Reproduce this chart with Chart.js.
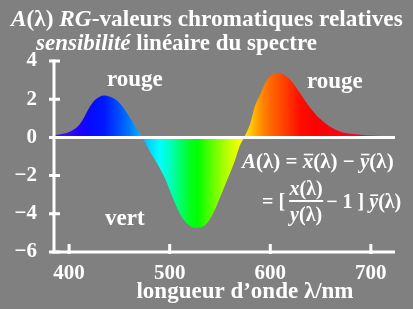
<!DOCTYPE html>
<html>
<head>
<meta charset="utf-8">
<script src="https://cdn.jsdelivr.net/npm/chart.js@4.4.1/dist/chart.umd.min.js"></script>
<style>
  html, body { margin: 0; padding: 0; background: #808080; }
  #chart { display: block; }
</style>
</head>
<body>
<canvas id="chart" width="413" height="309"></canvas>
<script>
// longueurs d'onde (nm) et valeurs A(λ)
const wavelengths = [385, 390, 400, 410, 415, 420, 425, 430, 435, 440, 445, 450, 455, 460, 465, 470, 473,
    480, 485, 490, 495, 500, 505, 510, 515, 520, 525, 530, 535, 540, 545, 550, 555, 560, 565, 570, 574,
    580, 585, 590, 595, 600, 605, 610, 615, 620, 625, 630, 640, 650, 660, 670, 680, 690, 700, 710, 720];
const aValues = [0.10, 0.15, 0.28, 0.65, 1.05, 1.55, 1.92, 2.12, 2.19, 2.14, 2.02, 1.80, 1.48, 1.07, 0.64, 0.22, 0.0,
    -0.71, -1.15, -1.60, -2.10, -2.75, -3.40, -3.98, -4.38, -4.62, -4.73, -4.72, -4.60, -4.28, -3.78, -3.15, -2.50, -1.87, -1.18, -0.40, 0.0,
    0.71, 1.68, 2.25, 2.85, 3.20, 3.35, 3.37, 3.23, 3.00, 2.67, 2.28, 1.53, 0.95, 0.55, 0.30, 0.19, 0.14, 0.10, 0.07, 0.04];
const xTicks = [400, 500, 600, 700];
const yTicks = [-6, -4, -2, 0, 2, 4];

// couleurs du spectre (style)
const spectrum = [
    [385, "#4818e8"], [400, "#3010f8"], [410, "#2000ff"], [420, "#0808ff"], [435, "#0018ff"],
    [450, "#0050ff"], [460, "#0078ff"], [470, "#00b0ff"], [480, "#00d8ff"], [490, "#00ffff"],
    [500, "#00ffc0"], [510, "#00ff70"], [520, "#00ff20"], [528, "#00ff00"], [540, "#50ff00"],
    [550, "#90ff00"], [560, "#c8ff00"], [570, "#f4ff00"], [576, "#ffe000"], [582, "#ffc000"],
    [590, "#ff9000"], [600, "#ff6800"], [610, "#ff4c00"], [620, "#ff2c00"], [630, "#ff0c00"],
    [645, "#ff0000"], [670, "#ff0018"], [700, "#ff0038"], [723, "#ff0048"]
];

const FONT = '"Liberation Serif", "Times New Roman", serif';

function drawRuns(ctx, x, y, parts, size) {
    parts.forEach(([t, italic, bar]) => {
        ctx.font = `${italic ? "italic " : ""}bold ${size}px ${FONT}`;
        ctx.fillText(t, x, y);
        const w = ctx.measureText(t).width;
        if (bar) {
            ctx.fillRect(x + 1, y - size * 0.68, w - 1, 1.6);
        }
        x += w;
    });
    return x;
}

function runsWidth(ctx, parts, size) {
    let w = 0;
    parts.forEach(([t, italic]) => {
        ctx.font = `${italic ? "italic " : ""}bold ${size}px ${FONT}`;
        w += ctx.measureText(t).width;
    });
    return w;
}

const decor = {
    id: "decor",
    beforeDraw(chart) {
        const ctx = chart.ctx;
        ctx.save();
        ctx.fillStyle = "#808080";
        ctx.fillRect(0, 0, chart.width, chart.height);
        ctx.restore();
    },
    afterDatasetsDraw(chart) {
        const ctx = chart.ctx;
        const xs = chart.scales.x, ys = chart.scales.y;
        const a = chart.chartArea;
        ctx.save();
        ctx.fillStyle = "#fff";
        ctx.strokeStyle = "#fff";
        ctx.lineWidth = 3;

        // ligne zéro
        const y0 = ys.getPixelForValue(0);
        ctx.beginPath();
        ctx.moveTo(a.left, y0);
        ctx.lineTo(a.right + 1, y0);
        ctx.stroke();

        // axes
        ctx.beginPath();
        ctx.moveTo(a.left, ys.getPixelForValue(4) - 1.5);
        ctx.lineTo(a.left, a.bottom);
        ctx.moveTo(a.left - 2, a.bottom);
        ctx.lineTo(a.right + 1, a.bottom);
        ctx.stroke();

        // graduations
        ctx.beginPath();
        yTicks.forEach(v => {
            const py = ys.getPixelForValue(v);
            ctx.moveTo(a.left - 5, py);
            ctx.lineTo(a.left + 6, py);
        });
        xTicks.forEach(v => {
            const px = xs.getPixelForValue(v);
            ctx.moveTo(px, a.bottom - 8);
            ctx.lineTo(px, a.bottom + 2);
        });
        ctx.stroke();

        // titre
        ctx.textBaseline = "alphabetic";
        ctx.textAlign = "left";
        drawRuns(ctx, 11, 26, [["A", true], ["(λ) ", false], ["RG", true], ["-valeurs chromatiques relatives", false]], 23.3);
        drawRuns(ctx, 36, 50, [["sensibilité", true], [" linéaire du spectre", false]], 23);

        // légendes des zones
        ctx.font = `bold 23px ${FONT}`;
        ctx.fillText("rouge", 107, 86);
        ctx.fillText("rouge", 307, 88);
        ctx.fillText("vert", 105, 225);

        // axe x
        ctx.textAlign = "center";
        ctx.fillText("longueur d’onde λ/nm", 245, 298);
        ctx.textAlign = "left";

        // formule
        const fs = 21, fs2 = 20;
        drawRuns(ctx, 242, 168, [["A", true], ["(λ) = ", false], ["x", true, true], ["(λ) − ", false], ["y", true, true], ["(λ)", false]], fs);
        let x = drawRuns(ctx, 262, 208, [["= [", false]], fs2) + 4;
        const num = [["x", true], ["(λ)", false]];
        const den = [["y", true], ["(λ)", false]];
        const fw = Math.max(runsWidth(ctx, num, fs2), runsWidth(ctx, den, fs2)) + 1;
        drawRuns(ctx, x + (fw - runsWidth(ctx, num, fs2)) / 2, 195, num, fs2);
        drawRuns(ctx, x + (fw - runsWidth(ctx, den, fs2)) / 2, 221, den, fs2);
        ctx.fillRect(x, 200, fw, 2);
        x += fw + 3;
        drawRuns(ctx, x, 208, [["− 1 ] ", false], ["y", true, true], ["(λ)", false]], fs2);
        ctx.restore();
    }
};

new Chart(document.getElementById("chart"), {
    type: "line",
    data: {
        datasets: [{
            data: wavelengths.map((w, i) => ({ x: w, y: aValues[i] })),
            borderWidth: 0,
            borderColor: "rgba(0,0,0,0)",
            pointRadius: 0,
            cubicInterpolationMode: "monotone",
            fill: "origin",
            backgroundColor: (c) => {
                const chart = c.chart;
                if (!chart.chartArea) return "#888";
                const xs = chart.scales.x;
                const x1 = xs.getPixelForValue(380), x2 = xs.getPixelForValue(725);
                const g = chart.ctx.createLinearGradient(x1, 0, x2, 0);
                spectrum.forEach(([w, col]) => g.addColorStop((w - 380) / 345, col));
                return g;
            }
        }]
    },
    options: {
        responsive: false,
        animation: false,
        layout: { padding: { top: 61, right: 19, left: 0, bottom: 0 } },
        plugins: { legend: { display: false }, tooltip: { enabled: false } },
        scales: {
            x: {
                type: "linear",
                min: 385,
                max: 723,
                afterBuildTicks: s => { s.ticks = xTicks.map(v => ({ value: v })); },
                afterFit: s => { s.height = 57; },
                grid: { display: false, drawTicks: false },
                border: { display: false },
                ticks: { color: "#fff", padding: 9, font: { family: FONT, size: 21, weight: "bold" } }
            },
            y: {
                min: -6,
                max: 4,
                afterBuildTicks: s => { s.ticks = yTicks.map(v => ({ value: v })); },
                afterFit: s => { s.width = 54; },
                grid: { display: false, drawTicks: false },
                border: { display: false },
                ticks: {
                    color: "#fff", padding: 17,
                    font: { family: FONT, size: 21, weight: "bold" },
                    callback: v => String(v).replace("-", "−")
                }
            }
        }
    },
    plugins: [decor]
});
</script>
</body>
</html>
